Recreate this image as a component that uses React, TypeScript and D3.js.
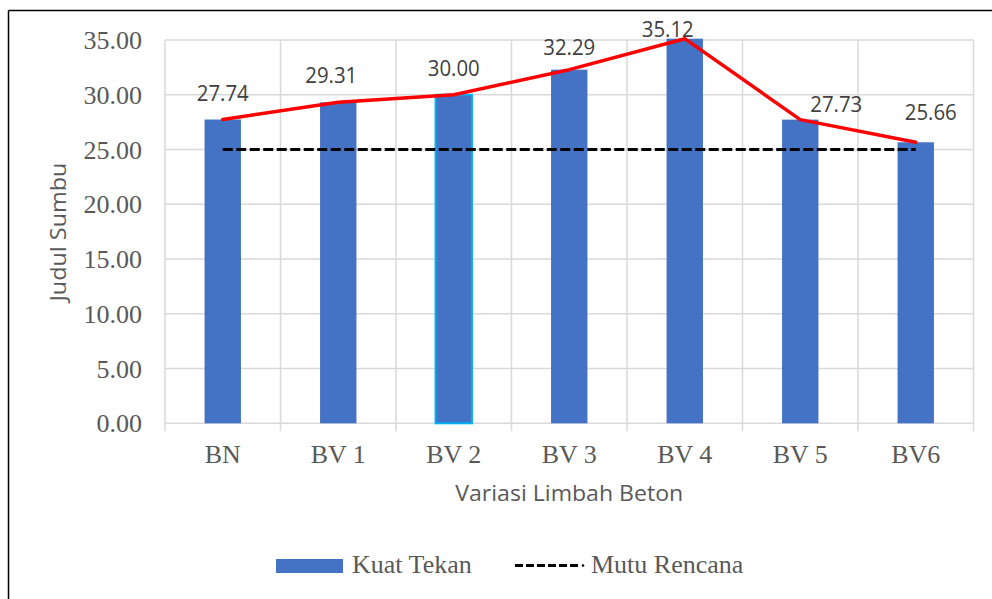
import React from "react";
import * as d3 from "d3";

const categories = ["BN", "BV 1", "BV 2", "BV 3", "BV 4", "BV 5", "BV6"];
const kuatTekan = [27.74, 29.31, 30.0, 32.29, 35.12, 27.73, 25.66];
const mutuRencana = [25, 25, 25, 25, 25, 25, 25];
const yTicks = [0, 5, 10, 15, 20, 25, 30, 35];

// label placement offsets (layout only)
const labelDx = [0, -7, 0, 0, -17, 36, 15];
const labelDy = [-18.5, -19, -19, -15, -2, -8, -22];

const W = 992;
const H = 599;
const plot = { left: 165, right: 973.5, top: 40, bottom: 423.3 };
const serif = "'Liberation Serif', 'Times New Roman', serif";
const sans = "'Open Sans', 'Noto Sans', sans-serif";
const grey = "#595959";

export default function App() {
  const x = d3.scaleBand<string>().domain(categories).range([plot.left, plot.right]).padding(0);
  const y = d3.scaleLinear().domain([0, 35]).range([plot.bottom, plot.top]);
  const bw = x.bandwidth();
  const barW = bw * 0.315;
  const cx = (c: string) => (x(c) as number) + bw / 2;

  const redLine = d3
    .line<number>()
    .x((_, i) => cx(categories[i]))
    .y((d) => y(d));
  const dashLine = d3
    .line<number>()
    .x((_, i) => cx(categories[i]))
    .y((d) => y(d));

  const boundaries = categories.map((c) => x(c) as number).concat([plot.right]);

  return (
    <svg
      width={W}
      height={H}
      style={{ position: "fixed", left: 0, top: 0, background: "#fff" }}
    >
      <rect x={0} y={0} width={W} height={H} fill="#fff" />
      {/* outer border */}
      <line x1={8.5} y1={10.5} x2={W} y2={10.5} stroke="#000" strokeWidth={1.5} />
      <line x1={8.5} y1={10.5} x2={8.5} y2={H} stroke="#000" strokeWidth={1.5} />

      {/* horizontal grid */}
      {yTicks.map((t) => (
        <line
          key={"h" + t}
          x1={plot.left}
          x2={plot.right}
          y1={y(t)}
          y2={y(t)}
          stroke="#d9d9d9"
          strokeWidth={1.5}
        />
      ))}
      {/* vertical grid + ticks */}
      {boundaries.map((b, i) => (
        <line
          key={"v" + i}
          x1={b}
          x2={b}
          y1={plot.top}
          y2={plot.bottom + 8}
          stroke="#d9d9d9"
          strokeWidth={1.5}
        />
      ))}

      {/* y tick labels */}
      {yTicks.map((t) => (
        <text
          key={"yl" + t}
          x={142}
          y={y(t) + 9}
          textAnchor="end"
          fontFamily={serif}
          fontSize={26}
          fill={grey}
        >
          {t.toFixed(2)}
        </text>
      ))}

      {/* bars */}
      {kuatTekan.map((v, i) => (
        <rect
          key={"b" + i}
          x={cx(categories[i]) - barW / 2}
          y={y(v)}
          width={barW}
          height={y(0) - y(v)}
          fill="#4472c4"
          stroke={i === 2 ? "#00b0f0" : "none"}
          strokeWidth={i === 2 ? 2 : 0}
        />
      ))}

      {/* dashed target line */}
      <path
        d={dashLine(mutuRencana) || ""}
        fill="none"
        stroke="#000"
        strokeWidth={3}
        strokeDasharray="10 3.5"
      />

      {/* red line */}
      <path
        d={redLine(kuatTekan) || ""}
        fill="none"
        stroke="#ff0000"
        strokeWidth={3.5}
        strokeLinejoin="round"
        strokeLinecap="round"
      />

      {/* data labels */}
      {kuatTekan.map((v, i) => (
        <text
          key={"dl" + i}
          x={cx(categories[i]) + labelDx[i]}
          y={y(v) + labelDy[i]}
          textAnchor="middle"
          fontFamily={sans}
          fontSize={21}
          fill="#404040"
          textLength={52}
          lengthAdjust="spacingAndGlyphs"
        >
          {v.toFixed(2)}
        </text>
      ))}

      {/* x tick labels */}
      {categories.map((c) => (
        <text
          key={"xl" + c}
          x={cx(c)}
          y={463}
          textAnchor="middle"
          fontFamily={serif}
          fontSize={26}
          fill={grey}
        >
          {c}
        </text>
      ))}

      {/* axis titles */}
      <text
        x={(plot.left + plot.right) / 2}
        y={501}
        textAnchor="middle"
        fontFamily={sans}
        fontSize={21}
        fill={grey}
        textLength={228}
        lengthAdjust="spacingAndGlyphs"
      >
        Variasi Limbah Beton
      </text>
      <text
        transform={`translate(66,232) rotate(-90)`}
        textAnchor="middle"
        fontFamily={sans}
        fontSize={21}
        fill={grey}
        textLength={139}
        lengthAdjust="spacingAndGlyphs"
      >
        Judul Sumbu
      </text>

      {/* legend */}
      <rect x={276} y={559} width={67} height={14} fill="#4472c4" />
      <text x={352} y={573} fontFamily={serif} fontSize={26} fill={grey}>
        Kuat Tekan
      </text>
      <line
        x1={515}
        x2={580}
        y1={565.5}
        y2={565.5}
        stroke="#000"
        strokeWidth={3}
        strokeDasharray="8 3"
      />
      <circle cx={583} cy={565.5} r={1.3} fill="#000" />
      <text x={591} y={573} fontFamily={serif} fontSize={26} fill={grey}>
        Mutu Rencana
      </text>
    </svg>
  );
}
